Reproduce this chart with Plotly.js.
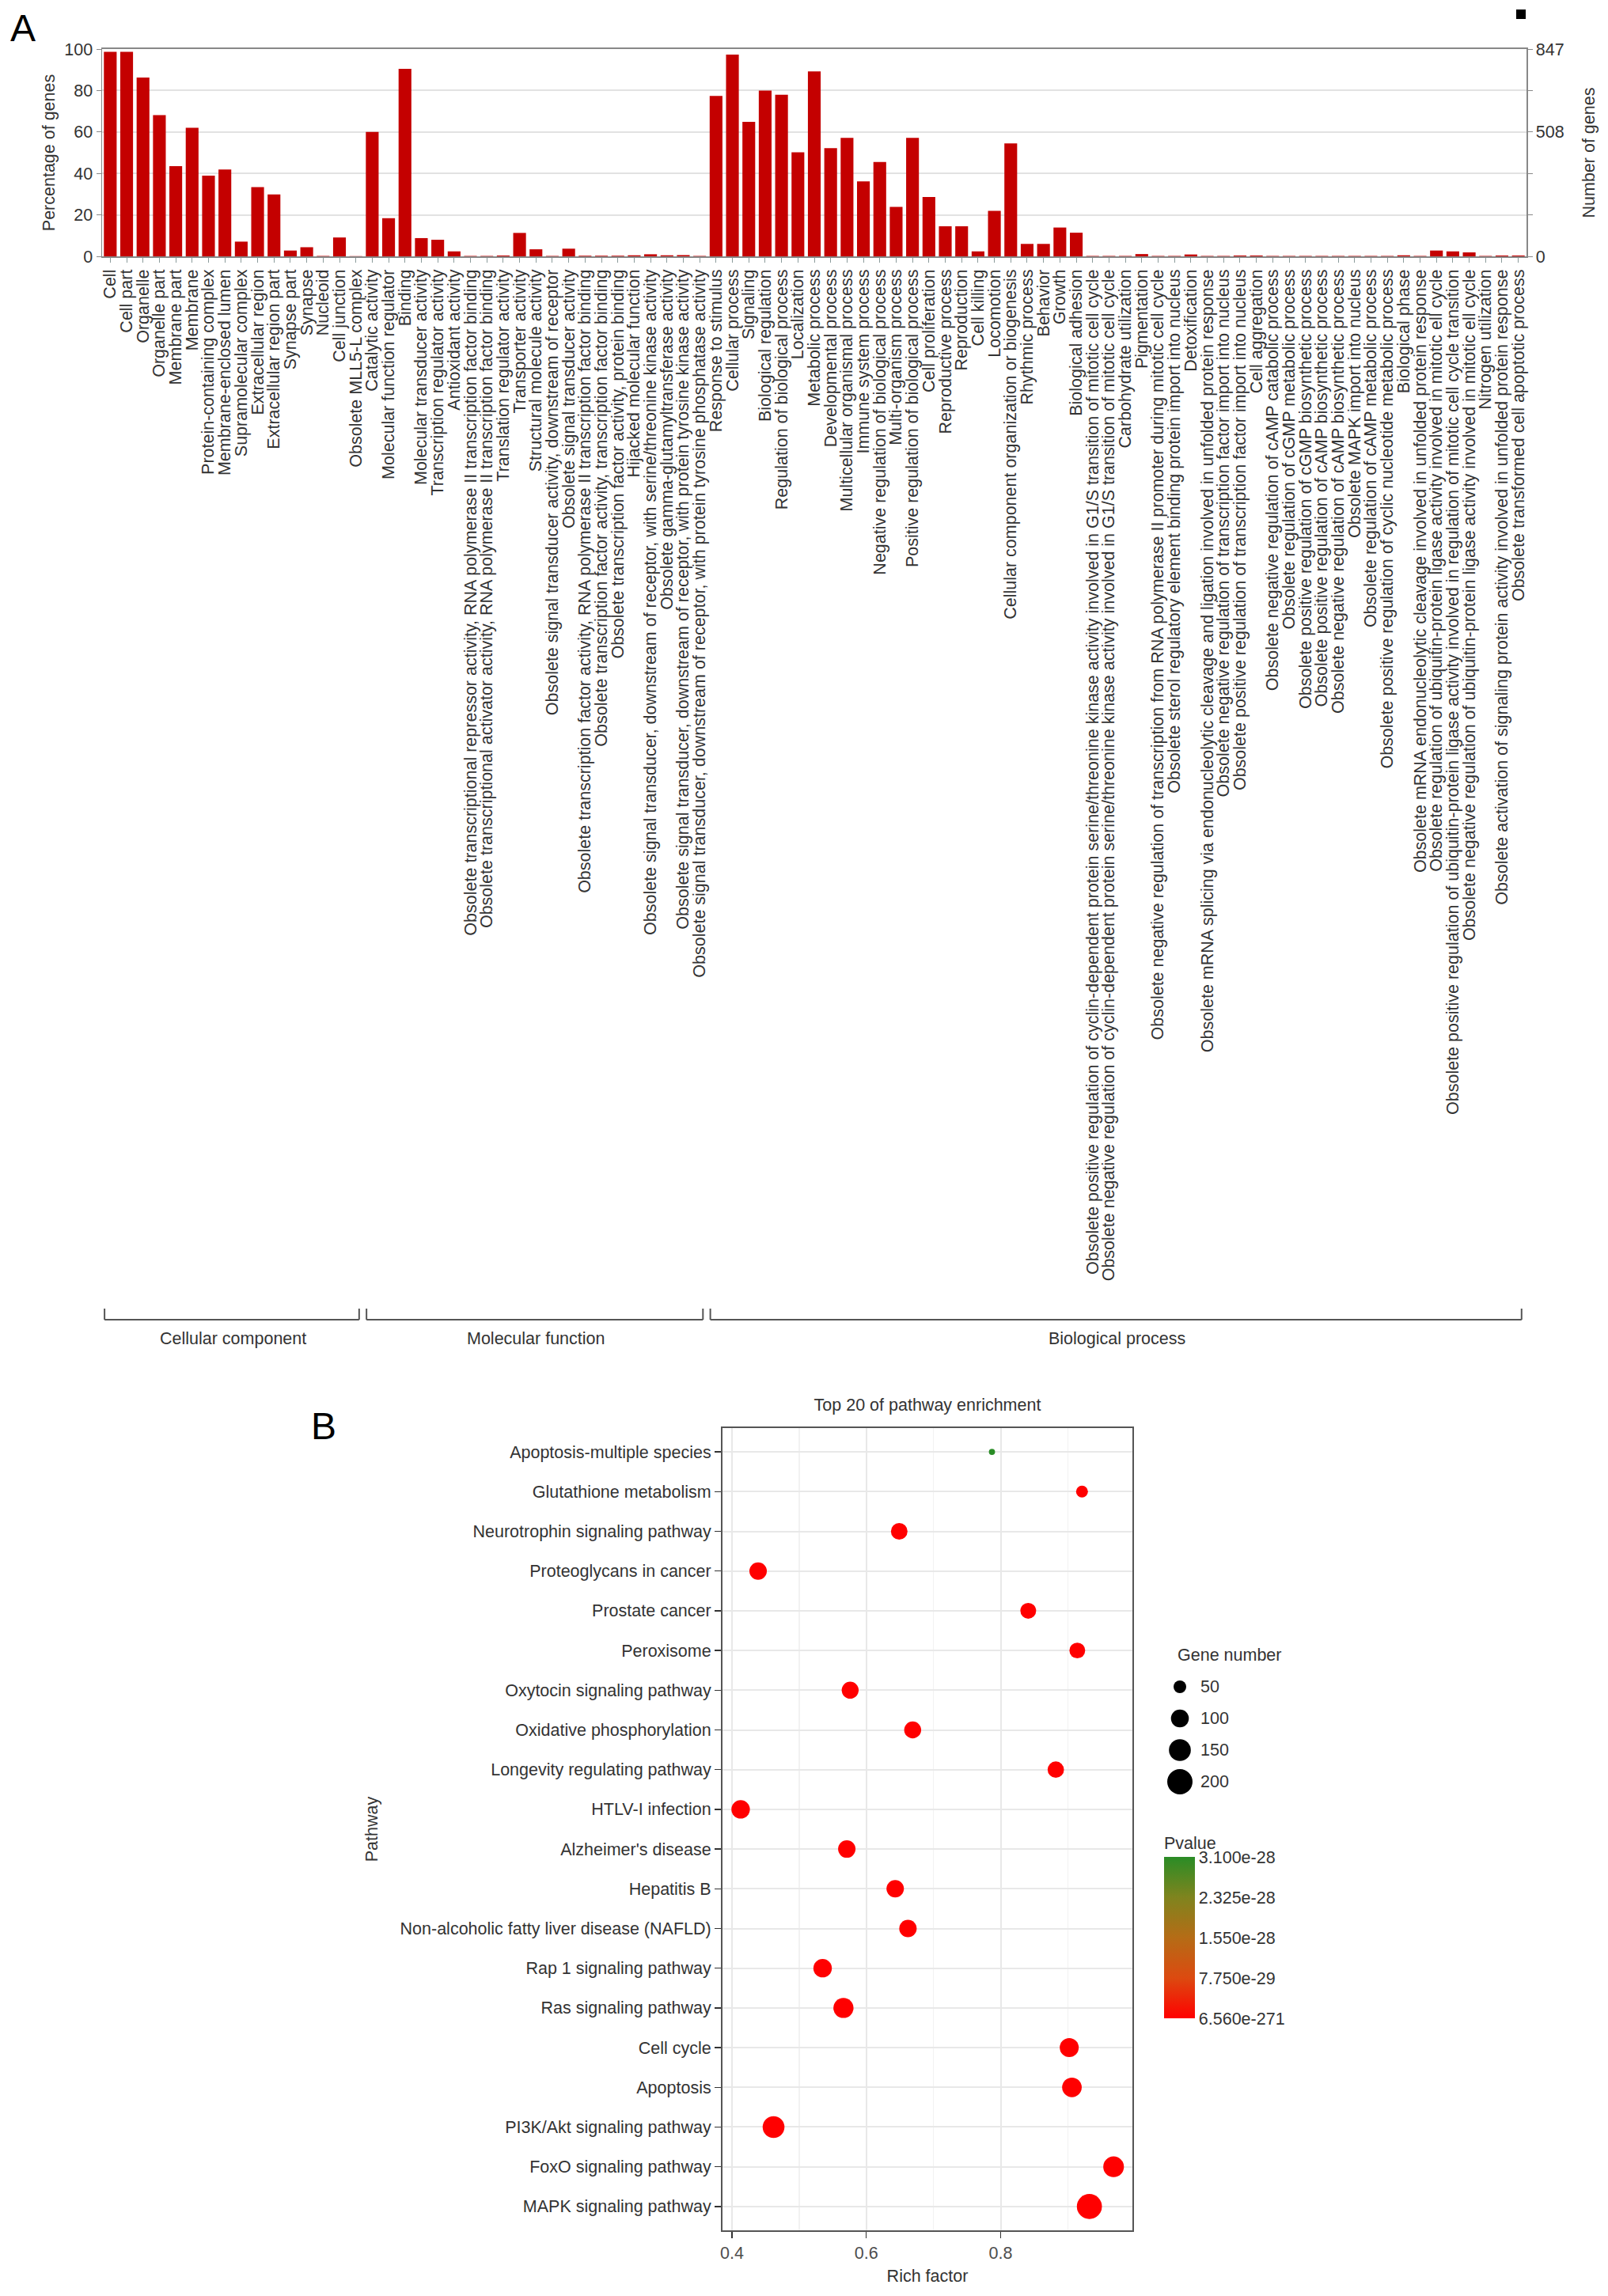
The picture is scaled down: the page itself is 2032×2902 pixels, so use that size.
<!DOCTYPE html>
<html><head><meta charset="utf-8">
<script src="https://cdn.plot.ly/plotly-3.0.1.min.js"></script>
<style>html,body{margin:0;padding:0;background:#fff;} #chart{width:2032px;height:2902px;}</style>
</head><body><div id="chart"></div>
<script>
// ---------- Panel A data ----------
const goCategories = [
"Cell","Cell part","Organelle","Organelle part","Membrane part","Membrane","Protein-containing complex","Membrane-enclosed lumen","Supramolecular complex","Extracellular region","Extracellular region part","Synapse part","Synapse","Nucleoid","Cell junction","Obsolete MLL5-L complex",
"Catalytic activity","Molecular function regulator","Binding","Molecular transducer activity","Transcription regulator activity","Antioxidant activity",
"Obsolete transcriptional repressor activity, RNA polymerase II transcription factor binding",
"Obsolete transcriptional activator activity, RNA polymerase II transcription factor binding",
"Translation regulator activity","Transporter activity","Structural molecule activity",
"Obsolete signal transducer activity, downstream of receptor","Obsolete signal transducer activity",
"Obsolete transcription factor activity, RNA polymerase II transcription factor binding",
"Obsolete transcription factor activity, transcription factor binding",
"Obsolete transcription factor activity, protein binding","Hijacked molecular function",
"Obsolete signal transducer, downstream of receptor, with serine/threonine kinase activity",
"Obsolete gamma-glutamyltransferase activity",
"Obsolete signal transducer, downstream of receptor, with protein tyrosine kinase activity",
"Obsolete signal transducer, downstream of receptor, with protein tyrosine phosphatase activity",
"Response to stimulus","Cellular process","Signaling","Biological regulation","Regulation of biological process","Localization","Metabolic process","Developmental process","Multicellular organismal process","Immune system process","Negative regulation of biological process","Multi-organism process","Positive regulation of biological process","Cell proliferation","Reproductive process","Reproduction","Cell killing","Locomotion","Cellular component organization or biogenesis","Rhythmic process","Behavior","Growth","Biological adhesion",
"Obsolete positive regulation of cyclin-dependent protein serine/threonine kinase activity involved in G1/S transition of mitotic cell cycle",
"Obsolete negative regulation of cyclin-dependent protein serine/threonine kinase activity involved in G1/S transition of mitotic cell cycle",
"Carbohydrate utilization","Pigmentation",
"Obsolete negative regulation of transcription from RNA polymerase II promoter during mitotic cell cycle",
"Obsolete sterol regulatory element binding protein import into nucleus","Detoxification",
"Obsolete mRNA splicing via endonucleolytic cleavage and ligation involved in unfolded protein response",
"Obsolete negative regulation of transcription factor import into nucleus",
"Obsolete positive regulation of transcription factor import into nucleus","Cell aggregation",
"Obsolete negative regulation of cAMP catabolic process","Obsolete regulation of cGMP metabolic process",
"Obsolete positive regulation of cGMP biosynthetic process","Obsolete positive regulation of cAMP biosynthetic process",
"Obsolete negative regulation of cAMP biosynthetic process","Obsolete MAPK import into nucleus",
"Obsolete regulation of cAMP metabolic process","Obsolete positive regulation of cyclic nucleotide metabolic process",
"Biological phase","Obsolete mRNA endonucleolytic cleavage involved in unfolded protein response",
"Obsolete regulation of ubiquitin-protein ligase activity involved in mitotic ell cycle",
"Obsolete positive regulation of ubiquitin-protein ligase activity involved in regulation of mitotic cell cycle transition",
"Obsolete negative regulation of ubiquitin-protein ligase activity involved in mitotic ell cycle",
"Nitrogen utilization","Obsolete activation of signaling protein activity involved in unfolded protein response",
"Obsolete transformed cell apoptotic process"
];
const goPercent = [
98.7,98.7,86.3,68.1,43.5,62.0,38.9,41.9,7.1,33.4,29.9,2.8,4.4,0.2,9.1,0.1,
60.0,18.4,90.5,8.8,8.0,2.4,0.2,0.2,0.4,11.3,3.4,0.2,3.7,0.3,0.3,0.3,0.5,1.0,0.5,0.6,0.2,
77.4,97.3,64.9,80.0,78.0,50.2,89.2,52.2,57.2,36.2,45.5,23.9,57.2,28.6,14.5,14.5,2.4,21.9,54.5,6.0,6.0,13.9,11.4,
0.2,0.2,0.2,1.1,0.2,0.2,0.9,0.2,0.2,0.4,0.4,0.2,0.2,0.2,0.2,0.2,0.2,0.2,0.2,0.5,0.2,2.8,2.4,1.9,0.2,0.4,0.4
];
const goGroupNames = ["Cellular component","Molecular function","Biological process"];
const goGroupSizes = [16,21,50];
const totalGenes = 847;
const percentTicks = [0,20,40,60,80,100];
const geneTickText = ["0","","","508","","847"];

// ---------- Panel B data ----------
const pathways = ["Apoptosis-multiple species","Glutathione metabolism","Neurotrophin signaling pathway","Proteoglycans in cancer","Prostate cancer","Peroxisome","Oxytocin signaling pathway","Oxidative phosphorylation","Longevity regulating pathway","HTLV-I infection","Alzheimer's disease","Hepatitis B","Non-alcoholic fatty liver disease (NAFLD)","Rap 1 signaling pathway","Ras signaling pathway","Cell cycle","Apoptosis","PI3K/Akt signaling pathway","FoxO signaling pathway","MAPK signaling pathway"];
const richFactor = [0.787,0.921,0.649,0.439,0.841,0.914,0.576,0.669,0.882,0.413,0.571,0.643,0.662,0.535,0.566,0.902,0.906,0.462,0.968,0.932];
const geneNumber = [12,44,86,95,78,78,90,90,84,107,95,95,95,107,127,113,120,149,134,197];
const pvalue = [3.1e-28,2.4e-45,5.2e-60,1.1e-90,3.3e-70,7.4e-66,2.0e-80,6.1e-75,4.5e-72,8.8e-120,3.9e-95,1.6e-88,2.7e-92,5.5e-110,1.3e-130,9.2e-140,4.1e-150,2.2e-180,7.7e-200,6.56e-271];
const richTicks = [0.4,0.6,0.8];
const richMinorTicks = [0.5,0.7,0.9];
const sizeLegendValues = [50,100,150,200];
const pvalueTicks = [6.56e-271,7.75e-29,1.55e-28,2.325e-28,3.1e-28];
const pvalueTickText = ["6.560e-271","7.750e-29","1.550e-28","2.325e-28","3.100e-28"];

// ---------- helpers ----------
const W = 2032, H = 2902;
const px = x => x / W;
const py = y => 1 - y / H;
const FONT = "Liberation Sans, Arial, Helvetica, sans-serif";
const FS = 21.5;
const SIZEREF = 0.392;

const traces = [
  {type:"bar", x: goCategories, y: goPercent, xaxis:"x", yaxis:"y",
   marker:{color:"#c40000"}, hoverinfo:"x+y"},
  {type:"scatter", mode:"markers", x:[goCategories[0]], y:[0], xaxis:"x", yaxis:"y2",
   marker:{opacity:0}, hoverinfo:"skip"},
  {type:"scatter", mode:"markers", x: richFactor, y: pathways, xaxis:"x2", yaxis:"y3",
   marker:{size: geneNumber, sizemode:"area", sizeref: SIZEREF, color: pvalue,
     cmin: pvalueTicks[0], cmax: pvalueTicks[pvalueTicks.length-1],
     colorscale:[[0,"#ff0000"],[0.25,"#dc4a10"],[0.5,"#b56c16"],[0.75,"#7f841e"],[1,"#2a8c26"]],
     line:{width:0}, opacity:1,
     colorbar:{x:px(1471), xanchor:"left", y:py(2551), yanchor:"bottom",
       len:(2551-2318)/H, lenmode:"fraction", thickness:39, thicknessmode:"pixels",
       outlinewidth:0, xpad:0, ypad:0, tickmode:"array", tickvals: pvalueTicks, ticktext: pvalueTickText,
       ticks:"", tickfont:{size:FS, color:"#333", family:FONT},
       title:{text:"Pvalue", side:"top", font:{size:FS, color:"#333", family:FONT}}}}},
  {type:"scatter", mode:"markers", x: sizeLegendValues.map(()=>0), y: sizeLegendValues.map((v,i)=>i),
   xaxis:"x3", yaxis:"y4", marker:{size: sizeLegendValues, sizemode:"area", sizeref: SIZEREF, color:"#000000",
   opacity:1, line:{width:0}}, opacity:1, hoverinfo:"skip"}
];

const shapes = [];
const annotations = [];
let start = 0;
goGroupSizes.forEach((n, g) => {
  const s = start, e = start + n - 1;
  const x0 = s - 0.35, x1 = e + 0.2;
  const lineStyle = {color:"#555", width:2};
  shapes.push({type:"line", xref:"x", yref:"paper", x0:x0, x1:x1, y0:py(1668), y1:py(1668), line:lineStyle});
  shapes.push({type:"line", xref:"x", yref:"paper", x0:x0, x1:x0, y0:py(1668), y1:py(1654), line:lineStyle});
  shapes.push({type:"line", xref:"x", yref:"paper", x0:x1, x1:x1, y0:py(1668), y1:py(1654), line:lineStyle});
  annotations.push({xref:"x", yref:"paper", x:(s+e)/2, y:py(1692), text: goGroupNames[g], showarrow:false,
    xanchor:"center", yanchor:"middle", font:{size:FS, color:"#333", family:FONT}});
  start += n;
});
shapes.push({type:"rect", xref:"paper", yref:"paper", x0:px(1916), x1:px(1928), y0:py(24), y1:py(12),
  fillcolor:"#000", line:{width:0}});

annotations.push({xref:"paper", yref:"paper", x:px(29), y:py(36), text:"A", showarrow:false,
  xanchor:"center", yanchor:"middle", font:{size:48, color:"#000", family:FONT}});
annotations.push({xref:"paper", yref:"paper", x:px(409), y:py(1802), text:"B", showarrow:false,
  xanchor:"center", yanchor:"middle", font:{size:48, color:"#000", family:FONT}});
annotations.push({xref:"paper", yref:"paper", x:px(1486), y:py(2092), text:"Gene number", showarrow:false,
  xanchor:"left", yanchor:"middle", font:{size:FS, color:"#333", family:FONT}});
sizeLegendValues.forEach((v, i) => {
  annotations.push({xref:"x3", yref:"y4", x:0, y:i, text:String(v), showarrow:false, xshift:24,
    xanchor:"left", yanchor:"middle", font:{size:FS, color:"#333", family:FONT}});
});

const tickFontA = {size:FS, color:"#333", family:FONT};
const layout = {
  width:W, height:H, margin:{l:0,r:0,t:0,b:0}, paper_bgcolor:"#fff", plot_bgcolor:"#fff",
  showlegend:false, bargap:0.22, font:{family:FONT, size:FS, color:"#333"},
  title:{text:"Top 20 of pathway enrichment", x:px(1172), y:py(1775), xref:"paper", yref:"paper",
    xanchor:"center", yanchor:"middle", font:{size:FS, color:"#333", family:FONT}},
  xaxis:{domain:[px(129), px(1929)], anchor:"y", type:"category", range:[-0.5, goCategories.length-0.5],
    tickmode:"linear", tick0:0, dtick:1, tickangle:-90, ticks:"outside", ticklen:6, tickcolor:"#8c9c9c",
    tickfont:tickFontA, showline:true, mirror:true, linecolor:"#888", linewidth:2, showgrid:false,
    automargin:false, fixedrange:true},
  yaxis:{domain:[py(324), py(62)], anchor:"x", range:[0,100], tickmode:"array", tickvals:percentTicks,
    ticks:"outside", ticklen:6, tickcolor:"#888", tickfont:tickFontA, showline:true, linecolor:"#888", linewidth:1.5,
    showgrid:true, gridcolor:"#e2e2e2", gridwidth:2, zeroline:false, automargin:false,
    title:{text:"Percentage of genes", font:{size:FS, color:"#333", family:FONT}, standoff:6}},
  yaxis2:{overlaying:"y", side:"right", anchor:"x", range:[0,totalGenes], tickmode:"array",
    tickvals: percentTicks.map(p => p*totalGenes/100), ticktext: geneTickText,
    ticks:"outside", ticklen:6, tickcolor:"#888", tickfont:tickFontA, showline:true, linecolor:"#888", linewidth:1.5,
    showgrid:false, zeroline:false, automargin:false,
    title:{text:"Number of genes", font:{size:FS, color:"#333", family:FONT}, standoff:24}},
  xaxis2:{domain:[px(913), px(1431)], anchor:"y3", range:[0.386,0.996], tickmode:"array", tickvals:richTicks,
    ticks:"outside", ticklen:8, tickcolor:"#333", tickwidth:1.5, tickfont:{size:FS, color:"#4d4d4d", family:FONT},
    showgrid:true, gridcolor:"#e8e8e8", gridwidth:2,
    minor:{tickmode:"array", tickvals:richMinorTicks, showgrid:true, gridcolor:"#f2f2f2", gridwidth:1.5, ticks:""},
    showline:true, mirror:true, linecolor:"#555", linewidth:2, zeroline:false, automargin:false,
    title:{text:"Rich factor", font:{size:FS, color:"#333", family:FONT}, standoff:10}},
  yaxis3:{domain:[py(2819), py(1805)], anchor:"x2", type:"category", categoryorder:"array", categoryarray:pathways,
    range:[pathways.length-0.4, -0.6], ticks:"outside", ticklen:8, tickcolor:"#333", tickwidth:1.5,
    tickfont:{size:FS, color:"#333", family:FONT}, showgrid:true, gridcolor:"#e8e8e8", gridwidth:2,
    showline:true, mirror:true, linecolor:"#555", linewidth:2, automargin:false,
    title:{text:"Pathway", font:{size:FS, color:"#333", family:FONT}, standoff:22}},
  xaxis3:{domain:[px(1471), px(1511)], anchor:"y4", range:[-1,1], visible:false},
  yaxis4:{domain:[py(2272), py(2112)], anchor:"x3", range:[sizeLegendValues.length-0.5, -0.5], visible:false},
  shapes: shapes, annotations: annotations
};

Plotly.newPlot("chart", traces, layout, {displayModeBar:false, staticPlot:true});
</script>
</body></html>
